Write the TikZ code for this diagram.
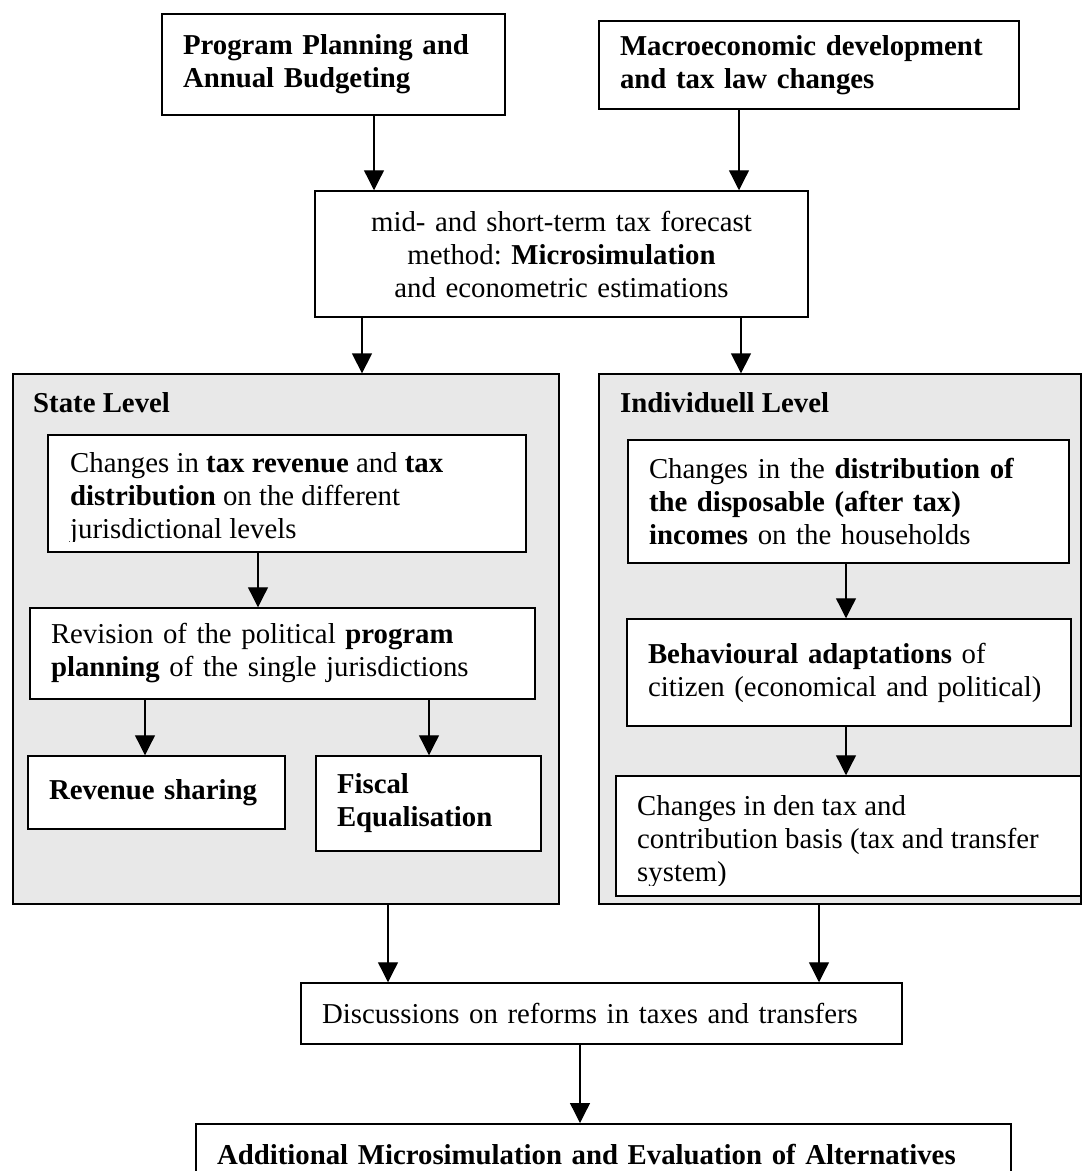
\documentclass[tikz,border=0pt]{standalone}
\usepackage{fontspec}
\setmainfont{Liberation Serif}
\usetikzlibrary{arrows.meta}
\definecolor{panelgray}{RGB}{232,232,232}
\frenchspacing
\tikzset{
  box/.style={draw, line width=1.5pt, fill=white, inner xsep=21pt, inner ysep=0pt, align=left, font=\fontsize{28.8}{33}\selectfont},
  txt/.style={inner sep=0pt, align=left, font=\fontsize{28.8}{33}\selectfont},
  lbl/.style={inner sep=0pt, font=\fontsize{28.8}{33}\selectfont\bfseries},
  panel/.style={draw, line width=1.3pt, fill=panelgray, inner sep=0pt},
  arr/.style={line width=1.3pt, -{Triangle[length=20pt,width=20pt]}},
}
\begin{document}
\begin{tikzpicture}[x=1pt,y=1pt,yscale=-1]
\clip (0,0) rectangle (1082,1171);

% Top row
\node[box, minimum width=343pt, minimum height=101pt, text width=301pt] (plan) at (333.5,64.5) {\textbf{Program Planning and}\\\textbf{Annual Budgeting}};
\node[box, minimum width=420pt, minimum height=88pt, text width=378pt] (macro) at (809,65) {\textbf{Macroeconomic development}\\\textbf{and tax law changes}};
% Forecast
\node[box, align=center, minimum width=493pt, minimum height=126pt, text width=451pt] (fcst) at (561.5,254) {mid- and short-term tax forecast\\method: \textbf{Microsimulation}\\and econometric estimations};

% Panels
\node[panel, minimum width=546pt, minimum height=530pt] (state) at (286,639) {};
\node[panel, minimum width=482pt, minimum height=530pt] (indiv) at (840,639) {};
\node[lbl, anchor=base west] (statelbl) at (33,412) {State Level};
\node[lbl, anchor=base west] (indivlbl) at (620,412) {Individuell Level};

% State level
\node[box, minimum width=478pt, minimum height=117pt] (taxrev) at (287,493.5) {};
\begin{scope}
\clip (48,435) rectangle (526,541);
\node[txt, anchor=north west] (taxrevtxt) at (70,452) {Changes in \textbf{tax revenue} and \textbf{tax}\\\textbf{distribution} on the different\\jurisdictional levels};
\end{scope}
\node[box, minimum width=505pt, minimum height=91pt, text width=463pt] (progplan) at (282.5,653.5) {Revision of the political \textbf{program}\\\textbf{planning} of the single jurisdictions};
\node[box, minimum width=257pt, minimum height=73pt, text width=215pt] (revshare) at (156.5,792.5) {\textbf{Revenue sharing}};
\node[box, minimum width=225pt, minimum height=95pt, text width=183pt] (fiscal) at (428.5,803.5) {\textbf{Fiscal}\\\textbf{Equalisation}};

% Individual level
\node[box, minimum width=441pt, minimum height=123pt, text width=399pt] (dispinc) at (848.5,501.5) {Changes in the \textbf{distribution of}\\\textbf{the disposable (after tax)}\\\textbf{incomes} on the households};
\node[box, minimum width=444pt, minimum height=107pt, text width=402pt] (behav) at (849,672.5) {\textbf{Behavioural adaptations} of\\citizen (economical and political)};
\node[box, minimum width=465pt, minimum height=120pt] (basis) at (848.5,836) {};
\begin{scope}
\clip (616,776) rectangle (1081,885);
\node[txt, anchor=north west] (basistxt) at (637,795) {Changes in den tax and\\contribution basis (tax and transfer\\system)};
\end{scope}

% Bottom
\node[box, minimum width=601pt, minimum height=61pt, text width=559pt] (disc) at (601.5,1013.5) {Discussions on reforms in taxes and transfers};
\node[box, anchor=north, minimum width=815pt, minimum height=62pt, text width=773pt] (altmic) at (603.5,1123) {\textbf{Additional Microsimulation and Evaluation of Alternatives}};

% Arrows
\draw[arr] ([xshift=40.5pt]plan.south) -- ([xshift=40.5pt]plan.south |- fcst.north);
\draw[arr] ([xshift=-70pt]macro.south) -- ([xshift=-70pt]macro.south |- fcst.north);
\draw[arr] ([xshift=-199.5pt]fcst.south) -- ([xshift=-199.5pt]fcst.south |- state.north);
\draw[arr] ([xshift=179.5pt]fcst.south) -- ([xshift=179.5pt]fcst.south |- indiv.north);
\draw[arr] ([xshift=-29pt]taxrev.south) -- ([xshift=-29pt]taxrev.south |- progplan.north);
\draw[arr] ([xshift=-137.5pt]progplan.south) -- ([xshift=-137.5pt]progplan.south |- revshare.north);
\draw[arr] ([xshift=146.5pt]progplan.south) -- ([xshift=146.5pt]progplan.south |- fiscal.north);
\draw[arr] ([xshift=-2.5pt]dispinc.south) -- ([xshift=-2.5pt]dispinc.south |- behav.north);
\draw[arr] ([xshift=-3pt]behav.south) -- ([xshift=-3pt]behav.south |- basis.north);
\draw[arr] ([xshift=102pt]state.south) -- ([xshift=102pt]state.south |- disc.north);
\draw[arr] ([xshift=-21pt]indiv.south) -- ([xshift=-21pt]indiv.south |- disc.north);
\draw[arr] ([xshift=-21.5pt]disc.south) -- ([xshift=-21.5pt]disc.south |- altmic.north);

\end{tikzpicture}
\end{document}
